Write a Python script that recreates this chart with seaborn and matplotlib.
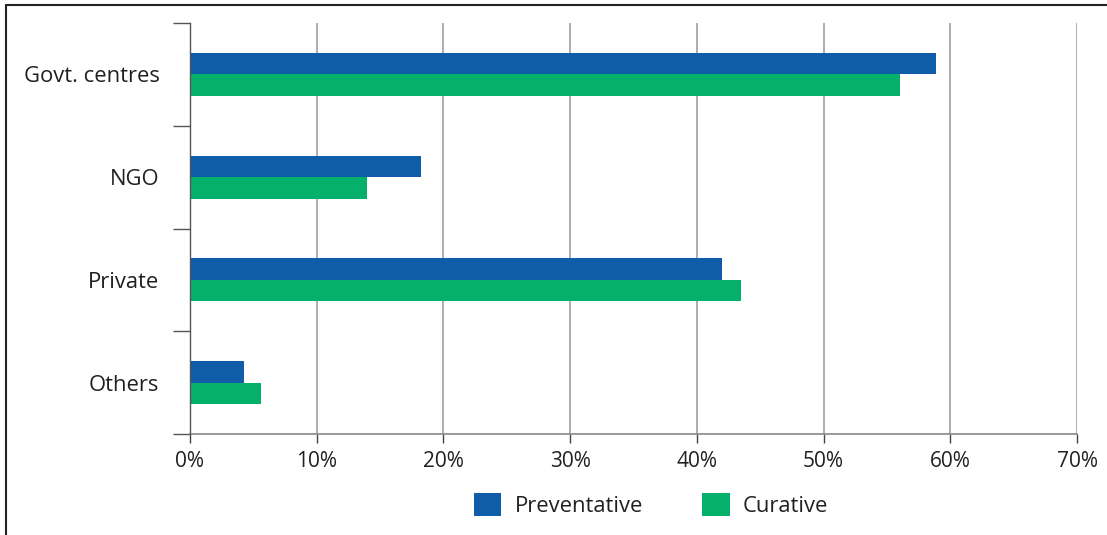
import matplotlib
matplotlib.use("Agg")
import matplotlib.pyplot as plt
from matplotlib.lines import Line2D
from matplotlib.patches import Patch
from matplotlib.ticker import FuncFormatter, FixedLocator
import seaborn as sns
import pandas as pd

# Share of services by provider type (%)
categories = ["Govt. centres", "NGO", "Private", "Others"]
preventative = [58.9, 18.2, 42.0, 4.3]
curative = [56.0, 14.0, 43.5, 5.6]
series_names = ["Preventative", "Curative"]
x_ticks = [0, 10, 20, 30, 40, 50, 60, 70]

colors = {"Preventative": "#0f5ca8", "Curative": "#05b16a"}

df = pd.DataFrame({
    "provider": categories * 2,
    "share": preventative + curative,
    "type": [series_names[0]] * len(categories) + [series_names[1]] * len(categories),
})

sns.set_theme(style="white")
plt.rcParams["font.family"] = ["Open Sans", "DejaVu Sans"]
text_color = "#231f20"

fig = plt.figure(figsize=(11.07, 5.35), dpi=100)
ax = fig.add_axes([190 / 1107, 1 - 434 / 535, (1077 - 190) / 1107, (434 - 23) / 535])

sns.barplot(data=df, x="share", y="provider", hue="type", order=categories,
            hue_order=series_names, palette=colors, orient="h", width=0.42,
            saturation=1, dodge=True, ax=ax, legend=False, linewidth=0, zorder=3)

ax.set_xlim(0, 70)
ax.set_ylim(3.5, -0.5)
ax.set_xlabel("")
ax.set_ylabel("")

# x axis: percent ticks with vertical grid
ax.xaxis.set_major_locator(FixedLocator(x_ticks))
ax.xaxis.set_major_formatter(FuncFormatter(lambda v, p: f"{v:.0f}%"))
ax.grid(axis="x", color="#a0a0a0", linewidth=1.2, zorder=0)
ax.grid(axis="y", visible=False)
ax.tick_params(axis="x", which="major", bottom=True, length=6.5, width=1.0,
               color="#444444", pad=6, labelsize=15, labelcolor=text_color)

# y axis: boundary ticks between categories, labels at category centres
ax.yaxis.set_major_locator(FixedLocator([-0.5, 0.5, 1.5, 2.5, 3.5]))
ax.yaxis.set_major_formatter(FuncFormatter(lambda v, p: ""))
ax.yaxis.set_minor_locator(FixedLocator(range(len(categories))))
ax.set_yticklabels(categories, minor=True)
ax.tick_params(axis="y", which="major", left=True, length=12.2, width=1.0,
               color="#555555")
ax.tick_params(axis="y", which="minor", left=True, length=0, pad=22,
               labelsize=15.8, labelcolor=text_color)

for side in ["top", "right"]:
    ax.spines[side].set_visible(False)
ax.spines["left"].set_color("#555555")
ax.spines["left"].set_linewidth(1.0)
ax.spines["bottom"].set_color("#888888")
ax.spines["bottom"].set_linewidth(1.2)
ax.spines["left"].set_zorder(4)

# legend below the plot
handles = [Patch(facecolor=colors[n], edgecolor="none", label=n) for n in series_names]
fig.legend(handles=handles, loc="center", bbox_to_anchor=(651 / 1107, 1 - 505 / 535),
           ncol=2, frameon=False, fontsize=15.8, handlelength=1.25, handleheight=1.25,
           handletextpad=0.6, columnspacing=2.7, labelcolor=text_color)

# panel frame (left and top edges)
fig.add_artist(Line2D([6 / 1107, 6 / 1107], [0, 1 - 5 / 535], transform=fig.transFigure,
                      color="#222222", linewidth=1.5))
fig.add_artist(Line2D([6 / 1107, 1], [1 - 5 / 535, 1 - 5 / 535], transform=fig.transFigure,
                      color="#222222", linewidth=1.5))

fig.savefig("out.png", dpi=100, facecolor="white")
